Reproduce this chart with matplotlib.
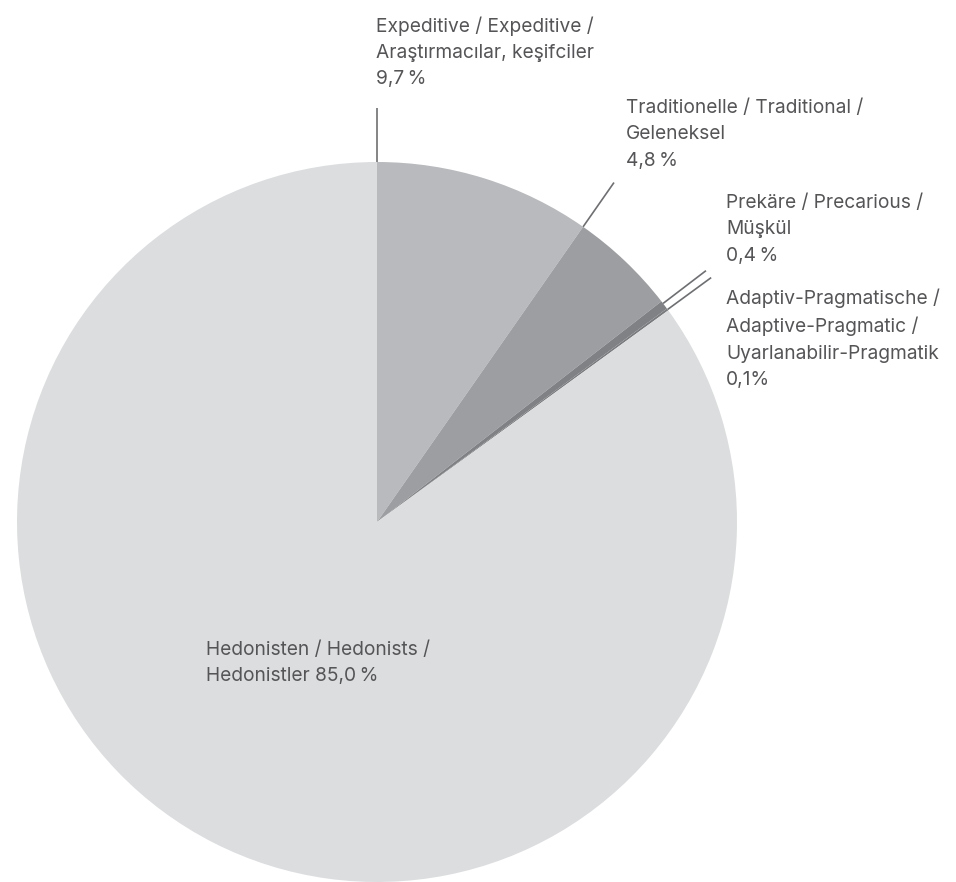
import numpy as np
import matplotlib.pyplot as plt

plt.rcParams['font.family'] = ['Inter', 'DejaVu Sans']

labels = ["Expeditive / Expeditive /\nAraştırmacılar, keşifciler\n9,7\u2009%",
          "Traditionelle / Traditional /\nGeleneksel\n4,8\u2009%",
          "Prekäre / Precarious /\nMüşkül\n0,4\u2009%",
          "Adaptiv-Pragmatische /\nAdaptive-Pragmatic /\nUyarlanabilir-Pragmatik\n0,1%",
          "Hedonisten / Hedonists /\nHedonistler 85,0\u2009%"]
shares = [9.7, 4.8, 0.4, 0.1, 85.0]
colors = ["#b9babd", "#9d9ea1", "#808184", "#7a7b7e", "#dcdddf"]

W, H = 956, 882
fig = plt.figure(figsize=(W / 100, H / 100), dpi=100)
ax = fig.add_axes([0, 0, 1, 1])

cx, cy, r = 377, H - 522, 360
ax.pie(shares, colors=colors, startangle=90, counterclock=False,
       center=(cx, cy), radius=r, frame=True,
       wedgeprops=dict(linewidth=0))
ax.set_xlim(0, W)
ax.set_ylim(0, H)
ax.set_aspect('equal')
ax.axis('off')

# leader lines: start edge for the bigger slices, middle for the thin ones
cum = np.concatenate([[0], np.cumsum(shares)])
ang = []
for i in range(4):
    a0 = 90 - cum[i] * 3.6
    a1 = 90 - cum[i + 1] * 3.6
    ang.append(a0 if i < 2 else (a0 + a1) / 2 + (0.3 if i == 2 else 0))
for a in ang:
    t = np.radians(a)
    ax.plot([cx + r * np.cos(t), cx + 1.15 * r * np.cos(t)],
            [cy + r * np.sin(t), cy + 1.15 * r * np.sin(t)],
            color="#6e6f72", lw=1.2, solid_capstyle='butt')

txt = dict(fontsize=13.8, color="#555558", linespacing=1.6, ha='left')
ax.text(376, H - 16, labels[0], va='top', **txt)
ax.text(626, H - 99, labels[1], va='top', **txt)
ax.text(726, H - 194, labels[2], va='top', **txt)
ax.text(726, H - 288, labels[3], va='top', **txt)
ax.text(206, H - 641, labels[4], va='top', **txt)

fig.savefig("out.png", dpi=100, facecolor="white")
